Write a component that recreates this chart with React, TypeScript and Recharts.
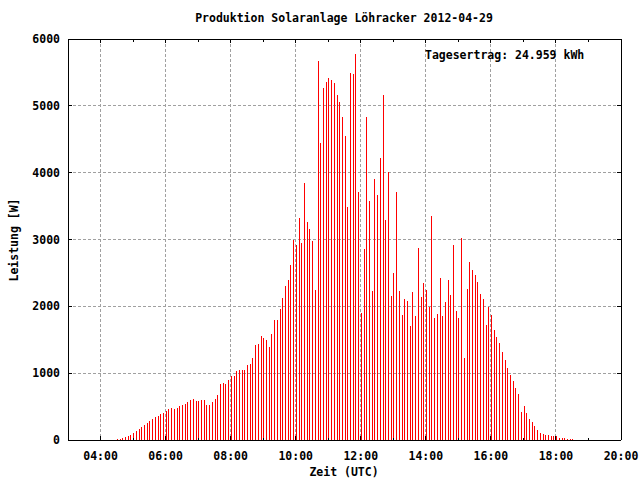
import React from 'react';
import { ComposedChart, Bar, XAxis, YAxis, CartesianGrid, ReferenceLine } from 'recharts';

const times = [
  '04:30','04:35','04:40','04:45','04:50','04:55',
  '05:00','05:05','05:10','05:15','05:20','05:25','05:30','05:35','05:40','05:45','05:50','05:55',
  '06:00','06:05','06:10','06:15','06:20','06:25','06:30','06:35','06:40','06:45','06:50','06:55',
  '07:00','07:05','07:10','07:15','07:20','07:25','07:30','07:35','07:40','07:45','07:50','07:55',
  '08:00','08:05','08:10','08:15','08:20','08:25','08:30','08:35','08:40','08:45','08:50','08:55',
  '09:00','09:05','09:10','09:15','09:20','09:25','09:30','09:35','09:40','09:45','09:50','09:55',
  '10:00','10:05','10:10','10:15','10:20','10:25','10:30','10:35','10:40','10:45','10:50','10:55',
  '11:00','11:05','11:10','11:15','11:20','11:25','11:30','11:35','11:40','11:45','11:50','11:55',
  '12:00','12:05','12:10','12:15','12:20','12:25','12:30','12:35','12:40','12:45','12:50','12:55',
  '13:00','13:05','13:10','13:15','13:20','13:25','13:30','13:35','13:40','13:45','13:50','13:55',
  '14:00','14:05','14:10','14:15','14:20','14:25','14:30','14:35','14:40','14:45','14:50','14:55',
  '15:00','15:05','15:10','15:15','15:20','15:25','15:30','15:35','15:40','15:45','15:50','15:55',
  '16:00','16:05','16:10','16:15','16:20','16:25','16:30','16:35','16:40','16:45','16:50','16:55',
  '17:00','17:05','17:10','17:15','17:20','17:25','17:30','17:35','17:40','17:45','17:50','17:55',
  '18:00','18:05','18:10','18:15','18:20','18:25','18:30',
];

const power = [
  15, 15, 30, 45, 60, 75,
  105, 135, 165, 195, 225, 255, 285, 315, 345, 360, 390, 405,
  435, 465, 480, 465, 480, 510, 525, 540, 570, 600, 615, 585,
  585, 600, 600, 525, 525, 570, 615, 675, 840, 855, 840, 900,
  960, 960, 1035, 1050, 1047, 1047, 1122, 1137, 1227, 1422, 1437, 1556,
  1526, 1496, 1392, 1586, 1796, 1796, 1960, 2125, 2304, 2394, 2619, 2993,
  2918, 3322, 2948, 3846, 3262, 3157, 2978, 2245, 5671, 4444, 5267, 5357,
  5417, 5387, 5342, 5162, 5058, 4833, 4549, 3486, 5491, 5476, 5776, 3711,
  1896, 2858, 4833, 3576, 2230, 3905, 3666, 4220, 5162, 3292, 4010, 2155,
  2499, 3711, 2230, 1870, 2110, 2080, 1706, 2215, 1855, 2873, 2140, 2349,
  2245, 1990, 3352, 1825, 1885, 2424, 1855, 2065, 2394, 2170, 2918, 1930,
  1825, 3022, 1227, 2260, 2663, 2544, 2469, 2364, 2185, 2110, 1721, 1990,
  1870, 1646, 1541, 1451, 1317, 1197, 1077, 973, 883, 778, 688, 419,
  509, 404, 314, 269, 209, 150, 105, 90, 75, 75, 60, 60,
  60, 30, 30, 30, 15, 15, 15,
];

const xTickLabels = ['04:00', '06:00', '08:00', '10:00', '12:00', '14:00', '16:00', '18:00', '20:00'];
const minorTickLabels = ['05:00', '07:00', '09:00', '11:00', '13:00', '15:00', '17:00', '19:00'];
const yTicks = [0, 1000, 2000, 3000, 4000, 5000, 6000];

const title = 'Produktion Solaranlage Löhracker 2012-04-29';
const yieldText = 'Tagesertrag: 24.959 kWh';
const xLabel = 'Zeit (UTC)';
const yLabel = 'Leistung [W]';

const toMin = (s: string) => {
  const [h, m] = s.split(':').map(Number);
  return h * 60 + m;
};
const fmt = (v: number) => {
  const h = Math.floor(v / 60);
  const m = v % 60;
  return `${String(h).padStart(2, '0')}:${String(m).padStart(2, '0')}`;
};

const data = times.map((t, i) => ({ t: toMin(t), w: power[i] }));
const X_MIN = 180;
const X_MAX = 1200;
const Y_MAX = 6000;
const xTicks = xTickLabels.map(toMin);
const minorTicks = minorTickLabels.map(toMin);

// tick lengths expressed in data units (plot: 553 px wide for 1020 min, 401 px tall for 6000 W)
const majorTickW = 4 * Y_MAX / 401;
const minorTickW = 2.5 * Y_MAX / 401;
const yTickMin = 4 * (X_MAX - X_MIN) / 553;

const FONT = '"DejaVu Sans Mono", "Liberation Mono", monospace';
const textStyle: React.CSSProperties = { fontFamily: FONT, fontWeight: 'bold', fontSize: 11.5 };

const Impulse = (p: any) => {
  if (p.height == null || p.height <= 0) return null;
  const cx = Math.round(p.x + p.width / 2);
  return <rect x={cx} y={p.y} width={1} height={p.height} fill="#ff0000" />;
};

export default function App() {
  return (
    <div style={{ position: 'absolute', left: 0, top: 0, width: 640, height: 480, background: '#fff' }}>
      <style>{`.recharts-wrapper line, .recharts-wrapper rect { shape-rendering: crispEdges; }`}</style>
      <ComposedChart width={640} height={480} data={data} margin={{ top: 39, right: 19, bottom: 0, left: 8 }}>
        <CartesianGrid stroke="#a0a0a0" strokeDasharray="3 2" />
        <XAxis
          type="number"
          dataKey="t"
          domain={[X_MIN, X_MAX]}
          ticks={xTicks}
          interval={0}
          tickFormatter={fmt}
          tickLine={false}
          axisLine={false}
          tickSize={0}
          tickMargin={12}
          height={40}
          allowDataOverflow
          tick={{ fill: '#000', ...textStyle }}
        />
        <YAxis
          type="number"
          domain={[0, Y_MAX]}
          ticks={yTicks}
          interval={0}
          tickLine={false}
          axisLine={false}
          tickSize={0}
          tickMargin={8}
          width={60}
          allowDataOverflow
          tick={{ fill: '#000', ...textStyle }}
        />
        <Bar dataKey="w" barSize={1} shape={Impulse} isAnimationActive={false} />
        {xTicks.map((t) => (
          <ReferenceLine key={`xb${t}`} segment={[{ x: t, y: 0 }, { x: t, y: majorTickW }]} stroke="#000" ifOverflow="visible" />
        ))}
        {xTicks.map((t) => (
          <ReferenceLine key={`xt${t}`} segment={[{ x: t, y: Y_MAX }, { x: t, y: Y_MAX - majorTickW }]} stroke="#000" ifOverflow="visible" />
        ))}
        {minorTicks.map((t) => (
          <ReferenceLine key={`mb${t}`} segment={[{ x: t, y: 0 }, { x: t, y: minorTickW }]} stroke="#000" ifOverflow="visible" />
        ))}
        {minorTicks.map((t) => (
          <ReferenceLine key={`mt${t}`} segment={[{ x: t, y: Y_MAX }, { x: t, y: Y_MAX - minorTickW }]} stroke="#000" ifOverflow="visible" />
        ))}
        {yTicks.map((v) => (
          <ReferenceLine key={`yl${v}`} segment={[{ x: X_MIN, y: v }, { x: X_MIN + yTickMin, y: v }]} stroke="#000" ifOverflow="visible" />
        ))}
        {yTicks.map((v) => (
          <ReferenceLine key={`yr${v}`} segment={[{ x: X_MAX, y: v }, { x: X_MAX - yTickMin, y: v }]} stroke="#000" ifOverflow="visible" />
        ))}
        <ReferenceLine x={X_MIN} stroke="#000" ifOverflow="visible" />
        <ReferenceLine x={X_MAX} stroke="#000" ifOverflow="visible" />
        <ReferenceLine y={0} stroke="#000" ifOverflow="visible" />
        <ReferenceLine y={Y_MAX} stroke="#000" ifOverflow="visible" />
      </ComposedChart>
      <svg width={640} height={480} style={{ position: 'absolute', left: 0, top: 0, pointerEvents: 'none' }}>
        <text x={344} y={22} textAnchor="middle" fill="#000" style={textStyle}>{title}</text>
        <text x={425} y={59} textAnchor="start" fill="#000" style={textStyle}>{yieldText}</text>
        <text x={344} y={476} textAnchor="middle" fill="#000" style={textStyle}>{xLabel}</text>
        <text transform="translate(17.5,240) rotate(-90)" textAnchor="middle" fill="#000" style={textStyle}>{yLabel}</text>
      </svg>
    </div>
  );
}
